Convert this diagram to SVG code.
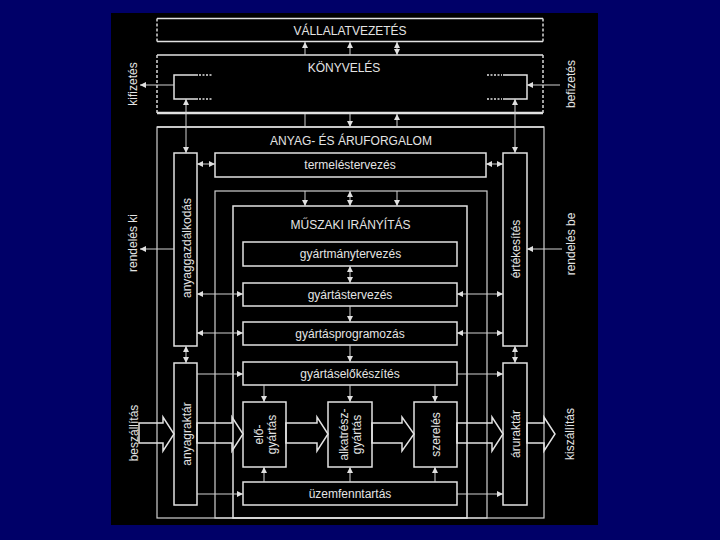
<svg xmlns="http://www.w3.org/2000/svg" width="720" height="540" viewBox="0 0 720 540">
<defs>
<marker id="ah" viewBox="0 0 6 6" refX="6" refY="3" markerWidth="6" markerHeight="6" markerUnits="userSpaceOnUse" orient="auto-start-reverse">
<path d="M0,0 L6,3 L0,6 z" fill="#e0e0e0"/>
</marker>
<style>
.bx{fill:none;stroke:#e2e2e2;stroke-width:1.5}
.fr{fill:none;stroke:#d0d0d0;stroke-width:1.2}
.dash{fill:none;stroke:#d8d8d8;stroke-width:1.5;stroke-dasharray:3,2}
.dot{fill:none;stroke:#e2e2e2;stroke-width:1.5;stroke-dasharray:2,1.5}
.ln{fill:none;stroke:#d0d0d0;stroke-width:1}
.a1{fill:none;stroke:#d0d0d0;stroke-width:1;marker-end:url(#ah)}
.a2{fill:none;stroke:#d0d0d0;stroke-width:1;marker-start:url(#ah);marker-end:url(#ah)}
.big{fill:none;stroke:#e2e2e2;stroke-width:1.5;stroke-linejoin:miter}
text{font-family:"Liberation Sans",Arial,sans-serif;font-size:12px;fill:#e4e4e4}
.m{text-anchor:middle}
</style>
</defs>
<rect x="0" y="0" width="720" height="540" fill="#000068"/>
<rect x="111" y="13" width="487" height="512" fill="#000"/>

<g id="vallalatvezetes">
<line class="bx" x1="157" y1="18.5" x2="543" y2="18.5"/>
<line class="bx" x1="157" y1="41.5" x2="543" y2="41.5"/>
<line class="dash" x1="157" y1="18.5" x2="157" y2="41.5"/>
<line class="dash" x1="543" y1="18.5" x2="543" y2="41.5"/>
<text class="m" x="350" y="35">VÁLLALATVEZETÉS</text>
</g>

<g id="konyveles">
<line class="bx" x1="157" y1="55" x2="543" y2="55"/>
<line class="bx" x1="157" y1="113" x2="543" y2="113" style="stroke-width:2.5"/>
<line class="dash" x1="157" y1="55" x2="157" y2="113"/>
<line class="dash" x1="543" y1="55" x2="543" y2="113"/>
<text class="m" x="344" y="71.5">KÖNYVELÉS</text>
<path class="bx" d="M198,75 H174 V99 H198"/>
<path class="dot" d="M199,75 H213 M199,99 H213"/>
<path class="bx" d="M503,75 H527 V99 H503"/>
<path class="dot" d="M487,75 H502 M487,99 H502"/>
</g>

<g id="anyag-es-aruforgalom">
<rect class="fr" x="157" y="127" width="387" height="391"/>
<line class="bx" x1="157" y1="127" x2="544" y2="127"/>
<text class="m" x="351" y="145">ANYAG- ÉS ÁRUFORGALOM</text>
</g>

<g id="termelestervezes">
<rect class="bx" x="215" y="153" width="271" height="24"/>
<text class="m" x="350" y="169">termeléstervezés</text>
</g>

<g id="kozepso-keret">
<rect class="fr" x="215" y="191" width="272" height="327"/>
</g>

<g id="muszaki-iranyitas">
<rect class="bx" x="233" y="206" width="234" height="312"/>
<text class="m" x="350.5" y="229">MŰSZAKI IRÁNYÍTÁS</text>
</g>

<g id="gyartmanytervezes">
<rect class="bx" x="243" y="242" width="214" height="24"/>
<text class="m" x="350.5" y="258">gyártmánytervezés</text>
</g>
<g id="gyartastervezes">
<rect class="bx" x="243" y="283" width="214" height="23"/>
<text class="m" x="350" y="298.5">gyártástervezés</text>
</g>
<g id="gyartasprogramozas">
<rect class="bx" x="243" y="322" width="214" height="23"/>
<text class="m" x="350" y="337.5">gyártásprogramozás</text>
</g>
<g id="gyartaselokeszites">
<rect class="bx" x="243" y="362" width="214" height="23"/>
<text class="m" x="350" y="377.5">gyártáselőkészítés</text>
</g>
<g id="elogyartas">
<rect class="bx" x="243" y="402" width="43" height="65"/>
<text class="m" transform="translate(262.5,434.5) rotate(-90)">elő-</text>
<text class="m" transform="translate(275.5,434.5) rotate(-90)">gyártás</text>
</g>
<g id="alkatreszgyartas">
<rect class="bx" x="328" y="402" width="44" height="65"/>
<text class="m" transform="translate(348,434.5) rotate(-90)">alkatrész-</text>
<text class="m" transform="translate(361,434.5) rotate(-90)">gyártás</text>
</g>
<g id="szereles">
<rect class="bx" x="414" y="402" width="43" height="65"/>
<text class="m" transform="translate(440,434.5) rotate(-90)">szerelés</text>
</g>
<g id="uzemfenntartas">
<rect class="bx" x="243" y="482" width="214" height="23"/>
<text class="m" x="350" y="497.5">üzemfenntartás</text>
</g>

<g id="anyaggazdalkodas">
<rect class="bx" x="174" y="153" width="23" height="193"/>
<text class="m" transform="translate(190.5,248) rotate(-90)">anyaggazdálkodás</text>
</g>
<g id="anyagraktar">
<rect class="bx" x="174" y="363" width="23" height="142"/>
<text class="m" transform="translate(190.5,434) rotate(-90)">anyagraktár</text>
</g>
<g id="ertekesites">
<rect class="bx" x="503" y="153" width="24" height="193"/>
<text class="m" transform="translate(519.5,249) rotate(-90)">értékesítés</text>
</g>
<g id="aruraktar">
<rect class="bx" x="503" y="363" width="24" height="142"/>
<text class="m" transform="translate(519.5,434) rotate(-90)">áruraktár</text>
</g>

<g id="kulso-cimkek">
<text class="m" transform="translate(137,84) rotate(-90)">kifizetés</text>
<text class="m" transform="translate(575,84) rotate(-90)">befizetés</text>
<text class="m" transform="translate(137,243) rotate(-90)">rendelés ki</text>
<text class="m" transform="translate(575,244) rotate(-90)">rendelés be</text>
<text class="m" transform="translate(137.5,433) rotate(-90)">beszállítás</text>
<text class="m" transform="translate(573.5,434) rotate(-90)">kiszállítás</text>
</g>

<g id="connectors">
<line class="a1" x1="174" y1="85" x2="140" y2="85"/>
<line class="a1" x1="560" y1="85" x2="527" y2="85"/>
<line class="a2" x1="186" y1="99" x2="186" y2="153"/>
<line class="a2" x1="515" y1="99" x2="515" y2="153"/>
<line class="a1" x1="305" y1="55" x2="305" y2="42"/>
<line class="a1" x1="350" y1="55" x2="350" y2="42"/>
<line class="a2" x1="397" y1="55" x2="397" y2="42"/>
<line class="ln" x1="305" y1="114" x2="305" y2="127"/>
<line class="a1" x1="350" y1="114" x2="350" y2="127"/>
<line class="a1" x1="397" y1="127" x2="397" y2="114"/>
<line class="a2" x1="197" y1="164" x2="215" y2="164"/>
<line class="a2" x1="486" y1="164" x2="503" y2="164"/>
<line class="a1" x1="305" y1="191" x2="305" y2="206"/>
<line class="a2" x1="350" y1="191" x2="350" y2="206"/>
<line class="a1" x1="397" y1="191" x2="397" y2="206"/>
<line class="a2" x1="350" y1="266" x2="350" y2="283"/>
<line class="a1" x1="350" y1="306" x2="350" y2="322"/>
<line class="a1" x1="350" y1="345" x2="350" y2="362"/>
<line class="a1" x1="264" y1="385" x2="264" y2="402"/>
<line class="a1" x1="350" y1="385" x2="350" y2="402"/>
<line class="a1" x1="435" y1="385" x2="435" y2="402"/>
<line class="a1" x1="264" y1="482" x2="264" y2="467"/>
<line class="a1" x1="350" y1="482" x2="350" y2="467"/>
<line class="a1" x1="435" y1="482" x2="435" y2="467"/>
<line class="a1" x1="174" y1="249" x2="140" y2="249"/>
<line class="a1" x1="562" y1="249" x2="527" y2="249"/>
<line class="a2" x1="197" y1="294" x2="243" y2="294"/>
<line class="a2" x1="197" y1="333" x2="243" y2="333"/>
<line class="a1" x1="197" y1="374" x2="243" y2="374"/>
<line class="a1" x1="197" y1="494" x2="243" y2="494"/>
<line class="a2" x1="457" y1="294" x2="503" y2="294"/>
<line class="a2" x1="457" y1="333" x2="503" y2="333"/>
<line class="a1" x1="457" y1="374" x2="503" y2="374"/>
<line class="a1" x1="457" y1="494" x2="503" y2="494"/>
<line class="a2" x1="186" y1="346" x2="186" y2="363"/>
<line class="a2" x1="515" y1="346" x2="515" y2="363"/>
<polygon class="big" points="139,423 163,423 163,417 174,434 163,451 163,443 139,443"/>
<polygon class="big" points="197,423 232,423 232,417 243,434 232,451 232,443 197,443"/>
<polygon class="big" points="286,423 317,423 317,417 328,434 317,451 317,443 286,443"/>
<polygon class="big" points="372,423 402,423 402,417 414,434 402,451 402,443 372,443"/>
<polygon class="big" points="457,423 492,423 492,417 503,434 492,451 492,443 457,443"/>
<polygon class="big" points="527,423 544,423 544,417 555,434 544,451 544,443 527,443"/>
</g>
</svg>
